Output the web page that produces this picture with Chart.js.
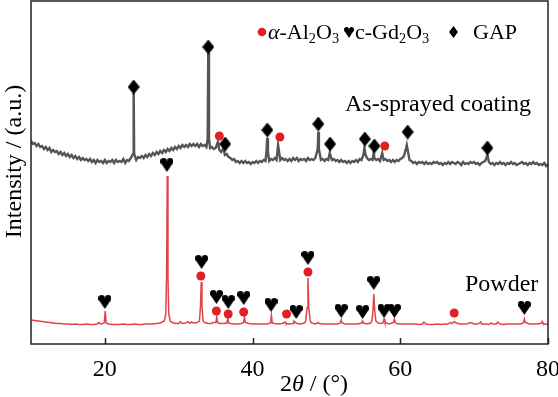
<!DOCTYPE html>
<html>
<head>
<meta charset="utf-8">
<script src="https://cdn.jsdelivr.net/npm/chart.js@4"></script>
<style>
  html, body { margin: 0; padding: 0; background: #fff; }
  #wrap { width: 558px; height: 397px; }
</style>
</head>
<body>
<div id="wrap"><canvas id="xrd"></canvas></div>
<script>
// x axis
const xTicks = [20, 40, 60, 80];

// As-sprayed coating: baseline every 0.25 deg from 10 to 80, then peaks
const coatingStart = 10, coatingStep = 0.25;
const coatingBase = [
  203,200,201,198, 200,197,198,195, 197,194,196,192, 194,192,193,190, 192,189,191,188,
  190,187,189,186, 188,185,187,184, 186,184,185,183, 185,182,184,181, 184,182,183,181,
  184,181,183,182, 184,181,184,182, 183,182,185,181, 184,183,186,184, 186,184,187,186,
  188,186,189,187, 190,188,191,189, 192,190,193,191, 194,192,195,193, 196,194,197,195,
  198,196,199,197, 199,197,200,198, 200,198,200,197, 200,198,199,197, 199,196,197,195,
  196,193,194,192, 191,189,190,187, 186,184,185,182, 183,181,183,181, 183,181,182,180,
  182,181,183,181, 183,182,184,183, 185,183,185,184, 186,184,186,184, 186,184,185,183,
  185,183,186,184, 186,183,185,184, 185,183,186,184, 185,184,186,185, 186,184,185,183,
  185,184,186,184, 185,183,184,182, 184,182,183,181, 183,181,183,182, 184,182,185,184,
  186,185,186,184, 185,184,186,184, 185,183,186,184, 185,183,184,182, 184,182,184,183,
  185,186,188,187, 186,184,183,181, 182,180,182,181, 182,180,182,180, 181,180,182,181,
  182,180,181,179, 181,180,182,180, 182,181,180,182, 181,179,182,180, 181,180,182,181,
  182,180,181,179, 181,182,183,181, 182,180,181,179, 181,180,182,180, 181,179,181,180,
  182,180,181,179, 180,181,182,180, 181,179,181,180, 182,180,181,179, 180,179,181,178,
  180
];
const coatingPeaks = [
  [23.82,190],[23.9,251],[23.97,190],
  [33.92,205],[34.0,291],[34.1,205],
  [35.3,202],[36.05,196],
  [41.9,194],[41.98,206],[42.08,192],
  [43.45,199],
  [48.82,195],[48.9,212],[48.98,195],
  [50.45,191],
  [55.0,189],[55.15,196],[55.3,189],
  [56.4,191],[57.55,191],
  [60.6,191],[60.75,195],[60.88,199],[61.05,192],
  [71.8,189]
];

// Powder: baseline every 0.5 deg from 10 to 80, then peaks
const powderStart = 10, powderStep = 0.5;
const powderBase = [
  24, 23.5, 23, 22.5, 22, 21.5, 21, 20.5, 20.5, 20,
  20, 19.5, 20, 19.5, 19.5, 20, 19.5, 19.5, 20, 20,
  20, 20, 19.5, 19.5, 19.5, 20, 19.5, 19.5, 20, 19.5,
  19.5, 20, 20, 20, 20.5, 21, 22, 22, 22, 20.5,
  20.5, 20.5, 21, 20.5, 21, 21.5, 22, 21.5, 20.5, 20.5,
  21, 20.5, 20.5, 20.5, 20.5, 20, 20, 20.5, 21, 20.5,
  20, 20, 20, 20, 20, 20.5, 20.5, 20, 20.5, 20.5,
  20, 20.5, 20.5, 20, 21, 22, 21, 20, 20.5, 20,
  20, 20, 20, 20, 20.5, 20, 20, 20, 20, 20.5,
  20.5, 20, 21, 22, 21, 20.5, 20.5, 20, 20.5, 20.5,
  20, 20, 20, 20, 20, 19.5, 20, 20, 19.5, 19.5,
  20, 19.5, 20, 20, 20.5, 20.5, 20, 20, 20, 20,
  20, 20, 20, 20, 19.5, 20, 20, 20, 19.5, 20,
  20, 20, 20, 20.5, 20.5, 20, 20, 20, 20.5, 20,
  19.5
];
const powderPeaks = [
  [19.15,21.5],
  [19.92,21],[20.05,33],[20.18,21],
  [28.05,23],[28.25,30],[28.36,70],[28.45,168],[28.54,70],[28.65,30],[28.85,23],
  [30.2,22.5],[31.25,22.5],[31.7,22],
  [32.8,23],[32.95,38],[33.05,62],[33.15,38],[33.3,23],
  [34.6,21.5],
  [35.03,21.5],[35.15,27],[35.27,21.5],
  [36.53,21],[36.65,26],[36.77,21],
  [38.78,21.5],[38.9,27],[39.02,21.5],
  [42.43,21],[42.55,29],[42.67,21],
  [44.4,22],[45.6,23],
  [47.2,23],[47.38,36],[47.5,66],[47.62,36],[47.8,23],
  [48.9,21.5],
  [51.88,21],[52.0,24],[52.12,21],
  [54.78,21],[54.9,23],[55.02,21],
  [56.15,23],[56.3,33],[56.42,50],[56.54,33],[56.7,23],
  [57.68,21.5],[57.8,25],[57.92,21.5],
  [59.08,21.5],[59.2,25],[59.32,21.5],
  [63.2,22],[66.8,21.5],
  [67.15,21.5],[67.3,22.5],[67.45,21.5],
  [69.5,21.5],[70.9,22],[72.3,21],[73.2,22],
  [76.68,21.5],[76.8,25],[76.92,21.5],
  [79.1,21],[79.2,22.5],[79.3,21]
];

// phase markers
const gapMarks = [[23.9,257],[34.0,297],[36.3,200],[42.0,214],[48.9,220],[50.5,200],[55.2,205],[56.5,198],[61.0,212],[71.8,196]];
const al2o3Marks = [[35.5,208],[43.7,207],[57.9,198],
  [33.0,68],[35.1,33],[36.7,30],[38.8,32],[44.6,30],[47.5,72],[67.3,31]];
const gd2o3Marks = [[20.0,42],[28.4,179],[33.1,82],[35.1,47],[36.7,42],[38.8,46],[42.5,39],[45.9,32],
  [47.5,86],[52.0,33],[54.9,32],[56.4,61],[57.8,33],[59.2,33],[76.8,36]];

const SERIF = "'Liberation Serif', 'Times New Roman', serif";
const RED = '#e2434b';
const DOT = '#e01f26';

function buildSeries(start, step, base, peaks) {
  const pts = [];
  base.forEach((y, i) => {
    const x = +(start + i * step).toFixed(2);
    if (!peaks.some(p => Math.abs(p[0] - x) < 0.09)) pts.push({ x, y });
  });
  peaks.forEach(p => pts.push({ x: p[0], y: p[1] }));
  return pts.sort((a, b) => a.x - b.x);
}
const toPts = arr => arr.map(p => ({ x: p[0], y: p[1] }));

// marker sprites
function makeHeart(w, h) {
  const c = document.createElement('canvas');
  c.width = w; c.height = h;
  const g = c.getContext('2d');
  const r = w / 4;
  g.fillStyle = '#000';
  g.beginPath(); g.arc(r, r, r, 0, Math.PI * 2); g.fill();
  g.beginPath(); g.arc(3 * r, r, r, 0, Math.PI * 2); g.fill();
  g.beginPath();
  g.moveTo(0.15, r * 1.35);
  g.lineTo(w / 2, h);
  g.lineTo(w - 0.15, r * 1.35);
  g.lineTo(w / 2, r);
  g.closePath(); g.fill();
  return c;
}
function makeDiamond(w, h) {
  const c = document.createElement('canvas');
  c.width = w; c.height = h;
  const g = c.getContext('2d');
  g.fillStyle = '#000';
  g.beginPath();
  g.moveTo(w / 2, 0); g.lineTo(w, h / 2); g.lineTo(w / 2, h); g.lineTo(0, h / 2);
  g.closePath(); g.fill();
  return c;
}
const heart = makeHeart(13, 14);
const diamond = makeDiamond(12, 15);
const heartSmall = makeHeart(10, 11);
const diamondSmall = makeDiamond(9, 12);

// text with sub-/italic parts
function richText(ctx, x, y, parts, size) {
  let cx = x;
  parts.forEach(([t, kind]) => {
    const s = kind === 'sub' ? size * 0.65 : size;
    ctx.font = (kind === 'it' ? 'italic ' : '') + s + 'px ' + SERIF;
    ctx.fillText(t, cx, kind === 'sub' ? y + size * 0.2 : y);
    cx += ctx.measureText(t).width;
  });
  return cx - x;
}
function richWidth(ctx, parts, size) {
  let w = 0;
  parts.forEach(([t, kind]) => {
    const s = kind === 'sub' ? size * 0.65 : size;
    ctx.font = (kind === 'it' ? 'italic ' : '') + s + 'px ' + SERIF;
    w += ctx.measureText(t).width;
  });
  return w;
}

const decor = {
  id: 'decor',
  afterDraw(chart) {
    const ctx = chart.ctx;
    const a = chart.chartArea;
    const xs = chart.scales.x;
    ctx.save();
    // frame
    ctx.strokeStyle = '#222';
    ctx.lineWidth = 1.5;
    ctx.strokeRect(a.left, a.top, a.right - a.left, a.bottom - a.top);
    // inward ticks
    ctx.beginPath();
    xTicks.forEach(v => {
      const px = Math.round(xs.getPixelForValue(v)) + 0.5;
      ctx.moveTo(px, a.bottom); ctx.lineTo(px, a.bottom - 6);
    });
    ctx.stroke();

    ctx.fillStyle = '#000';
    ctx.textBaseline = 'alphabetic';
    ctx.textAlign = 'left';
    // y title
    ctx.save();
    ctx.translate(21, 161.5);
    ctx.rotate(-Math.PI / 2);
    ctx.font = '24px ' + SERIF;
    ctx.textAlign = 'center';
    ctx.fillText('Intensity / (a.u.)', 0, 0);
    ctx.restore();
    // x title
    const xt = [['2', ''], ['\u03B8', 'it'], [' / (\u00B0)', '']];
    const xw = richWidth(ctx, xt, 24);
    richText(ctx, 314 - xw / 2, 391, xt, 24);
    // series labels
    ctx.font = '24px ' + SERIF;
    ctx.fillText('As-sprayed coating', 345, 111);
    ctx.fillText('Powder', 465, 291);
    // legend
    const ly = 39, fs = 22;
    ctx.fillStyle = DOT;
    ctx.beginPath(); ctx.arc(262, 32, 4.3, 0, Math.PI * 2); ctx.fill();
    ctx.fillStyle = '#000';
    richText(ctx, 268, ly, [['\u03B1', 'it'], ['-Al', ''], ['2', 'sub'], ['O', ''], ['3', 'sub']], fs);
    ctx.drawImage(heartSmall, 344, 27);
    richText(ctx, 355, ly, [['c-Gd', ''], ['2', 'sub'], ['O', ''], ['3', 'sub']], fs);
    ctx.drawImage(diamondSmall, 449, 26);
    richText(ctx, 473, ly, [['GAP', '']], fs);
    ctx.restore();
  }
};

new Chart(document.getElementById('xrd'), {
  type: 'line',
  data: {
    datasets: [
      { label: 'GAP', data: toPts(gapMarks), showLine: false, pointStyle: diamond, pointRadius: 7 },
      { label: 'c-Gd2O3', data: toPts(gd2o3Marks), showLine: false, pointStyle: heart, pointRadius: 7 },
      { label: 'α-Al2O3', data: toPts(al2o3Marks), showLine: false, pointStyle: 'circle',
        pointRadius: 4.5, pointBackgroundColor: DOT, pointBorderWidth: 0 },
      { label: 'As-sprayed coating', data: buildSeries(coatingStart, coatingStep, coatingBase, coatingPeaks),
        borderColor: '#555', borderWidth: 2.4, pointRadius: 0, tension: 0 },
      { label: 'Powder', data: buildSeries(powderStart, powderStep, powderBase, powderPeaks),
        borderColor: RED, borderWidth: 1.5, pointRadius: 0, tension: 0 }
    ]
  },
  options: {
    responsive: true,
    maintainAspectRatio: false,
    animation: false,
    devicePixelRatio: 1,
    layout: { autoPadding: false, padding: { left: 0, right: 10, top: 1, bottom: 0 } },
    plugins: { legend: { display: false }, tooltip: { enabled: false } },
    scales: {
      x: {
        type: 'linear', min: 10, max: 80,
        afterBuildTicks: s => { s.ticks = xTicks.map(v => ({ value: v })); },
        afterFit: s => { s.height = 53; s.paddingLeft = 0; s.paddingRight = 0; },
        grid: { display: false },
        border: { display: false },
        ticks: { color: '#000', padding: 3, maxRotation: 0, font: { family: SERIF, size: 24 } }
      },
      y: {
        min: 0, max: 343,
        afterFit: s => { s.width = 31; s.paddingTop = 0; s.paddingBottom = 0; },
        grid: { display: false },
        border: { display: false },
        ticks: { display: false }
      }
    }
  },
  plugins: [decor]
});
</script>
</body>
</html>
